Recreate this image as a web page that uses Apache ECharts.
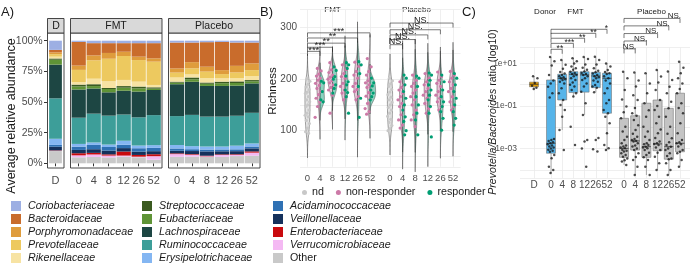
<!DOCTYPE html>
<html>
<head>
<meta charset="utf-8">
<script src="https://cdn.jsdelivr.net/npm/echarts@6/dist/echarts.min.js"></script>
<style>
html,body{margin:0;padding:0;background:#fff;}
#main{width:691px;height:271px;}
</style>
</head>
<body>
<div id="main"></div>
<script>
// ---- panel A : average relative abundance (%) ----
var families = ['Coriobacteriaceae','Bacteroidaceae','Porphyromonadaceae','Prevotellaceae','Rikenellaceae',
  'Streptococcaceae','Eubacteriaceae','Lachnospiraceae','Ruminococcaceae','Erysipelotrichaceae',
  'Acidaminococcaceae','Veillonellaceae','Enterobacteriaceae','Verrucomicrobiaceae','Other'];
var familyColors = ['#9dafe3','#c96c2c','#df9c3c','#edc95f','#f7e3a3',
  '#3b5a20','#5f9436','#1d4643','#3d9e99','#84b6f2',
  '#2f71b4','#15315c','#c90a0e','#f4b9f3','#c9c9c9'];
var weeks = ['0','4','8','12','26','52'];
// one row per bar, values in the order of families
var abundDonor = [7.5, 2, 1.5, 2, 1.5, 1, 4, 27.5, 33, 5, 1.5, 3, 0.3, 0.2, 10];
var abundFMT = [
  [1, 19.3, 3.5, 10, 2, 1.5, 2.5, 23, 21.4, 2.2, 2.7, 2.7, 1.7, 1.6, 4.9],
  [2, 10, 4, 15, 4.5, 1.5, 2, 20.5, 23.5, 2, 3.5, 3, 1.3, 2, 5.2],
  [2, 8, 4.7, 18.4, 5.5, 0.8, 2.7, 19, 23.6, 2, 3, 3, 1, 1.5, 4.8],
  [2, 7, 3.5, 19.5, 5, 1.3, 2.5, 19.4, 21.4, 3.3, 2.7, 2.8, 3.3, 0.8, 5.5],
  [2, 11, 2.8, 17.6, 4, 1.5, 2.6, 21, 23, 2.2, 2.8, 2.7, 1.4, 0.5, 4.9],
  [2, 12.4, 2.7, 19, 1.9, 1.1, 1.1, 20.5, 24.5, 2.2, 2.7, 2.5, 1.6, 2.8, 3]
];
var abundPlacebo = [
  [1.5, 21.1, 3.4, 4, 3.4, 0.8, 1.3, 26, 23.6, 2.8, 1.9, 2.1, 0.6, 2.2, 5.3],
  [1.5, 16, 5, 5, 2.5, 1.5, 2, 27, 25.5, 2.5, 1.5, 2.5, 0.5, 1.5, 5.5],
  [1.2, 20, 4, 5.4, 3.5, 1, 1.8, 25, 24.4, 2.5, 1.5, 3.5, 0.5, 0.5, 5.2],
  [1, 23, 3.2, 3.5, 2.7, 1.3, 2.2, 25, 24.4, 2.4, 1.5, 2.5, 0.5, 1.5, 5.3],
  [1.5, 19, 5.4, 4.6, 2.7, 1.3, 2.2, 24.5, 24.4, 3, 1.5, 2.5, 0.5, 1, 5.9],
  [1.5, 17, 5.5, 4.8, 3.3, 1, 1.7, 24, 25, 2.5, 1.5, 2.5, 1, 2.5, 6.2]
];

// ---- panel B : richness ----
var richFMTnd = [201,196,190,185,180,175,172,166,160,156,150,147,140,134,130,127,120,114,105,98,95];
var richFMTnon = [[],
  [221,216,210,206,202,198,192,188,182,176,170,163,156,147,126],
  [232,224,218,213,208,204,200,197,193,189,184,179,169,134],
  [228,219,211,205,202,192,186,179,173,166,160],
  [233,225,215,208,202,192,186,180,176,166,160],
  [240,224,215,208,202,197,193,189,184,179,174,167,161,153,143,137,132]];
var richFMTresp = [[],
  [196,193,176,160,156],
  [224,217,205,200,189,182,173],
  [232,228,221,206,195,189,179,174,166,134],
  [234,228,211,186,163,126],
  [202,193,187,179,173,166,160]];
var richPlaceboNd = [202,197,191,186,180,175,170,165,160,155,150,145,140,134,128,122,116,110,104,100];
var richPlaceboNon = [[],
  [195,189,184,179,173,166,160,153,147,140,131,121,111,105],
  [208,198,192,186,179,173,166,160,150,140,131,121,108],
  [211,202,195,189,182,176,169,163,153,143,134],
  [214,205,198,192,186,176,169,163,156,147,140],
  [215,208,202,195,189,182,176,166,156,147,140]];
var richPlaceboResp = [[],
  [208,202,189,176,163,150,140,127,118,100,92],
  [206,202,186,166,150,134,121,92],
  [212,208,198,189,179,169,160,147,134,88],
  [208,195,179,166,156,147,137,124,101],
  [211,202,189,176,163,150,137,124,111]];
var richSigFMT = [[1,254,'***'],[2,262,'***'],[3,270,'**'],[4,280,'**'],[5,290,'***']];
var richSigPlacebo = [[1,267,'NS.'],[2,277,'NS.'],[3,286,'NS.'],[4,296,'NS.'],[5,309,'NS.']];

// ---- panel C : log10 Prevotella/Bacteroides ratio ----
var ratioDonor = [0.4, 0.3, 0.08, -0.05, -0.15, -0.2];
var ratioFMT = [
  [1.3,1.1,0.9,0.45,0.2,0.05,-0.1,-0.4,-0.6,-2.55,-2.6,-2.65,-2.7,-2.75,-2.8,-2.85,-2.9,-2.95,-3.0,-3.05,-3.1,-3.15,-3.3,-3.45,-3.85,-4.0,-4.15],
  [1.16,0.93,0.75,0.6,0.53,0.46,0.4,0.35,0.3,0.25,0.22,0.14,0.06,-0.17,-0.4,-0.72,-0.95,-1.19,-1.5,-2.13,-3.07],
  [1.24,1.1,1.0,0.85,0.77,0.7,0.61,0.55,0.5,0.46,0.4,0.3,0.22,0.1,0.0,-0.09,-0.25,-0.4,-0.56,-1.97,-2.83],
  [1.3,1.2,0.95,0.8,0.7,0.62,0.55,0.5,0.46,0.4,0.3,0.22,0.06,-0.09,-0.33,-0.87,-1.42,-2.6,-2.67,-3.0,-3.85],
  [1.31,1.16,0.95,0.77,0.65,0.58,0.53,0.46,0.4,0.35,0.3,0.2,0.14,-0.01,-0.09,-0.14,-0.35,-2.5,-2.6,-3.03,-3.14],
  [1.0,0.85,0.69,0.6,0.54,0.5,0.4,0.3,0.2,0.06,-0.17,-0.4,-0.72,-0.87,-1.19,-1.34,-1.5,-1.81,-2.28,-2.83,-2.99,-3.07]];
var ratioPlacebo = [
  [0.61,0.3,-0.25,-0.7,-1.03,-1.3,-1.58,-1.97,-2.2,-2.44,-2.6,-2.75,-2.85,-2.9,-2.95,-2.99,-3.05,-3.1,-3.14,-3.22,-3.3,-3.38,-3.46,-3.55,-3.61,-3.77],
  [0.57,0.2,-0.09,-0.5,-0.72,-1.1,-1.34,-1.46,-1.66,-1.9,-2.13,-2.3,-2.44,-2.55,-2.6,-2.64,-2.67,-2.75,-2.85,-2.9,-3.0,-3.07,-3.22,-3.4,-3.54,-3.85,-4.24],
  [0.54,0.06,-0.4,-0.87,-1.2,-1.5,-1.97,-2.2,-2.44,-2.6,-2.75,-2.8,-2.83,-2.91,-2.95,-2.99,-3.07,-3.2,-3.3,-3.41,-3.54,-3.85,-4.24],
  [0.69,0.38,0.1,-0.25,-0.72,-1.0,-1.19,-1.5,-1.81,-2.1,-2.28,-2.5,-2.67,-2.75,-2.78,-2.83,-2.95,-3.07,-3.2,-3.38,-3.69,-4.0],
  [0.62,0.22,-0.1,-0.4,-0.8,-1.11,-1.5,-1.97,-2.3,-2.52,-2.7,-2.83,-2.91,-3.0,-3.07,-3.22,-3.35,-3.46,-3.5,-3.69,-4.0,-4.24],
  [1.08,0.8,0.54,0.3,0.06,-0.2,-0.4,-0.87,-1.1,-1.34,-1.81,-2.28,-2.6,-2.7,-2.75,-2.8,-2.9,-3.07,-3.15,-3.22,-3.54,-3.85]];
// [lower whisker, Q1, median, Q3, upper whisker]
var boxDonor = [-0.2, -0.1, 0.02, 0.12, 0.4];
var boxFMT = [[-4.15,-3.22,-2.75,0.22,1.3],[-2.13,-0.72,0.3,0.49,1.16],[-0.56,-0.37,0.49,0.61,1.24],
  [-1.42,-0.35,0.46,0.61,1.3],[-0.35,-0.14,0.41,0.58,1.31],[-3.07,-1.34,0.3,0.54,1.0]];
var boxPlacebo = [[-3.77,-3.41,-2.99,-1.58,0.61],[-4.24,-3.07,-2.64,-1.46,0.57],[-4.24,-3.41,-2.91,-0.87,0.54],
  [-4.0,-3.1,-2.78,-0.72,0.69],[-4.24,-3.5,-2.91,-1.11,0.62],[-3.85,-3.15,-2.75,-0.4,1.08]];
var ratioSigFMT = [[1,1.66,'**'],[2,1.94,'***'],[3,2.18,'**'],[4,2.41,'**'],[5,2.60,'*']];
var ratioSigPlacebo = [[1,1.68,'NS.'],[2,2.05,'NS.'],[3,2.40,'NS.'],[4,2.76,'NS.'],[5,3.11,'NS.']];

var FONT = 'Liberation Sans, Arial, sans-serif';
var TXT = '#4d4d4d';
var GRIDC = '#ebebeb';
var PINK = '#cc79a7', GREEN = '#009e73', NDGREY = '#c8c8c8';

var myChart = echarts.init(document.getElementById('main'));

// kernel density (gaussian, bw.nrd0, not trimmed) of the read points
function quant(s, p) {
  var h = (s.length - 1) * p, lo = Math.floor(h);
  return s[lo] + (h - lo) * (s[Math.min(lo + 1, s.length - 1)] - s[lo]);
}
function density(x) {
  var n = x.length, m = 0, v = 0;
  x.forEach(function (a) { m += a; }); m /= n;
  x.forEach(function (a) { v += (a - m) * (a - m); });
  var sd = Math.sqrt(v / (n - 1));
  var s = x.slice().sort(function (a, b) { return a - b; });
  var lo = Math.min(sd, (quant(s, 0.75) - quant(s, 0.25)) / 1.34);
  if (!(lo > 0)) lo = sd || 1;
  var bw = 0.9 * lo * Math.pow(n, -0.2);
  var y0 = s[0] - 3 * bw, y1 = s[n - 1] + 3 * bw, out = [];
  for (var k = 0; k <= 80; k++) {
    var y = y0 + (y1 - y0) * k / 80, d = 0;
    x.forEach(function (a) { var z = (y - a) / bw; d += Math.exp(-0.5 * z * z); });
    out.push([y, d / (n * bw * Math.sqrt(2 * Math.PI))]);
  }
  return out;
}

function frac(i) { return (i * 0.618034 + 0.37) % 1; }

function buildOption() {
  var series = [];
  // stacked bars (bottom family first)
  for (var f = families.length - 1; f >= 0; f--) {
    series.push({ type: 'bar', name: families[f], stack: 'd', xAxisIndex: 0, yAxisIndex: 0, barCategoryGap: '10%',
      data: [abundDonor[f]], itemStyle: { color: familyColors[f] }, silent: true });
    series.push({ type: 'bar', name: families[f], stack: 'f', xAxisIndex: 1, yAxisIndex: 1, barCategoryGap: '5%',
      data: abundFMT.map(function (r) { return r[f]; }), itemStyle: { color: familyColors[f] }, silent: true });
    series.push({ type: 'bar', name: families[f], stack: 'p', xAxisIndex: 2, yAxisIndex: 2, barCategoryGap: '5%',
      data: abundPlacebo.map(function (r) { return r[f]; }), itemStyle: { color: familyColors[f] }, silent: true });
  }

  // violins
  var profFMT = weeks.map(function (w, k) {
    return k === 0 ? { full: density(richFMTnd) } : { left: density(richFMTnon[k]), right: density(richFMTresp[k]) };
  });
  var profPl = weeks.map(function (w, k) {
    return k === 0 ? { full: density(richPlaceboNd) } : { left: density(richPlaceboNon[k]), right: density(richPlaceboResp[k]) };
  });
  var gmax = 0;
  profFMT.concat(profPl).forEach(function (p) {
    [p.full, p.left, p.right].forEach(function (d) { if (d) d.forEach(function (q) { gmax = Math.max(gmax, q[1]); }); });
  });
  function violin(gi, prof) {
    return { type: 'custom', xAxisIndex: gi, yAxisIndex: gi, silent: true, data: [0, 1, 2, 3, 4, 5].map(function (k) { return [k, 0]; }),
      encode: { x: 0, y: 1 },
      renderItem: function (params, api) {
        var k = api.value(0), p = prof[k];
        var cx = api.coord([k, 0])[0];
        var band = api.coord([1, 0])[0] - api.coord([0, 0])[0];
        var sc = 0.45 * band / gmax, kids = [];
        function side(d, sgn) { return d.map(function (q) { return [cx + sgn * q[1] * sc, api.coord([k, q[0]])[1]]; }); }
        if (p.full) {
          var pts = side(p.full, -1).concat(side(p.full, 1).reverse());
          kids.push({ type: 'polygon', shape: { points: pts }, style: { fill: 'rgba(200,200,200,0.45)', stroke: '#444', lineWidth: 0.5 } });
        } else {
          [[p.left, -1, 'rgba(204,121,167,0.45)'], [p.right, 1, 'rgba(0,158,115,0.45)']].forEach(function (h) {
            var pts = side(h[0], h[1]);
            pts.push([cx, pts[pts.length - 1][1]]); pts.push([cx, pts[0][1]]);
            kids.push({ type: 'polygon', shape: { points: pts }, style: { fill: h[2], stroke: '#444', lineWidth: 0.5 } });
          });
        }
        return { type: 'group', children: kids };
      } };
  }
  series.push(violin(4, profFMT), violin(5, profPl));

  function points(name, color, gi, groups, lo, hi, r) {
    var data = [];
    groups.forEach(function (vals, k) { vals.forEach(function (v, i) { data.push([k, v, i]); }); });
    return { type: 'custom', name: name, xAxisIndex: gi, yAxisIndex: gi, silent: true, data: data,
      encode: { x: 0, y: 1 }, itemStyle: { color: color },
      renderItem: function (params, api) {
        var k = api.value(0), p = api.coord([k, api.value(1)]);
        var band = api.coord([1, 0])[0] - api.coord([0, 0])[0];
        return { type: 'circle', shape: { cx: p[0] + (lo + (hi - lo) * frac(api.value(2))) * band, cy: p[1], r: r },
          style: { fill: color } };
      } };
  }
  series.push(points('nd', NDGREY, 4, [richFMTnd], -0.2, 0.2, 1.6));
  series.push(points('nd', NDGREY, 5, [richPlaceboNd], -0.2, 0.2, 1.6));
  series.push(points('non-responder', PINK, 4, richFMTnon, -0.4, 0.1, 1.6));
  series.push(points('non-responder', PINK, 5, richPlaceboNon, -0.4, 0.1, 1.6));
  series.push(points('responder', GREEN, 4, richFMTresp, 0, 0.3, 1.6));
  series.push(points('responder', GREEN, 5, richPlaceboResp, 0, 0.3, 1.6));

  // significance brackets
  function brackets(gi, sig, fs, place) {
    return { type: 'custom', xAxisIndex: gi, yAxisIndex: gi, silent: true, data: sig.map(function (s) { return [s[0], s[1]]; }),
      encode: { x: 0, y: 1 },
      renderItem: function (params, api) {
        var s = sig[params.dataIndex];
        var a = api.coord([0, s[1]]), b = api.coord([s[0], s[1]]);
        var tip = 4.5;
        var star = s[2].charAt(0) === '*';
        var tx = place === 'mid' ? (a[0] + b[0]) / 2 : b[0] + 1;
        return { type: 'group', children: [
          { type: 'polyline', shape: { points: [[a[0], a[1] + tip], [a[0], a[1]], [b[0], b[1]], [b[0], b[1] + tip]] },
            style: { stroke: '#222', lineWidth: 0.6, fill: 'none' } },
          { type: 'text', x: tx, y: a[1] + (star ? 3.5 : 1.5),
            style: { text: s[2], fontSize: star ? fs + 0.5 : fs, fontFamily: FONT, fill: '#222',
              align: place === 'mid' ? 'center' : 'right', verticalAlign: 'bottom' } }
        ] };
      } };
  }
  series.push(brackets(4, richSigFMT, 9, 'mid'), brackets(5, richSigPlacebo, 9, 'mid'));

  // boxplots + jitter for panel C
  function boxes(gi, stats, idx0, fill) {
    return { type: 'custom', xAxisIndex: gi, yAxisIndex: gi, silent: true,
      data: stats.map(function (b, i) { return [i + idx0].concat(b); }), encode: { x: 0, y: [1, 2, 3, 4, 5] },
      renderItem: function (params, api) {
        var k = api.value(0), hw = 4.5;
        var lo = api.coord([k, api.value(1)]), q1 = api.coord([k, api.value(2)]), md = api.coord([k, api.value(3)]),
            q3 = api.coord([k, api.value(4)]), hi = api.coord([k, api.value(5)]);
        var ls = { stroke: '#777', lineWidth: 0.6, fill: 'none' };
        return { type: 'group', children: [
          { type: 'line', shape: { x1: lo[0], y1: lo[1], x2: q1[0], y2: q1[1] }, style: ls },
          { type: 'line', shape: { x1: q3[0], y1: q3[1], x2: hi[0], y2: hi[1] }, style: ls },
          { type: 'rect', shape: { x: q3[0] - hw, y: q3[1], width: 2 * hw, height: q1[1] - q3[1] }, style: { fill: fill, stroke: '#777', lineWidth: 0.6 } },
          { type: 'line', shape: { x1: md[0] - hw, y1: md[1], x2: md[0] + hw, y2: md[1] }, style: { stroke: '#333', lineWidth: 0.8, fill: 'none' } }
        ] };
      } };
  }
  function ratioPts(gi, groups, idx0) {
    var data = [];
    groups.forEach(function (vals, k) { vals.forEach(function (v, i) { data.push([k + idx0, v, i]); }); });
    return { type: 'custom', xAxisIndex: gi, yAxisIndex: gi, silent: true, data: data, encode: { x: 0, y: 1 },
      renderItem: function (params, api) {
        var p = api.coord([api.value(0), api.value(1)]);
        return { type: 'circle', shape: { cx: p[0] + (frac(api.value(2)) - 0.5) * 7, cy: p[1], r: 1.25 },
          style: { fill: '#111', opacity: 0.75 } };
      } };
  }
  series.push(boxes(7, [boxDonor], 1, '#e69f00'), boxes(8, boxFMT, 0, '#56b4e9'), boxes(9, boxPlacebo, 0, '#c4c4c4'));
  series.push(ratioPts(7, [ratioDonor], 1), ratioPts(8, ratioFMT, 0), ratioPts(9, ratioPlacebo, 0));
  series.push(brackets(8, ratioSigFMT, 8, 'right'), brackets(9, ratioSigPlacebo, 8, 'right'));

  var aTop = 40.7, aH = 122.6, bTop = 9.67, bH = 157.08, cTop = 47.4, cH = 131;
  var grids = [
    { left: 48.4, top: aTop, width: 14.2, height: aH },
    { left: 71.2, top: aTop, width: 90, height: aH },
    { left: 169.5, top: aTop, width: 89.8, height: aH },
    { left: 300, top: bTop, width: 160.6, height: bH },
    { left: 307.5, top: bTop, width: 62.5, height: bH },
    { left: 390, top: bTop, width: 63, height: bH },
    { left: 520, top: cTop, width: 170, height: cH },
    { left: 522.8, top: cTop, width: 22.4, height: cH },
    { left: 551, top: cTop, width: 56, height: cH },
    { left: 624, top: cTop, width: 56, height: cH }
  ];
  var lbl = function (fs, margin) { return { fontSize: fs, color: TXT, fontFamily: FONT, margin: margin }; };
  var aX = function (gi, data) {
    return { type: 'category', gridIndex: gi, data: data, offset: 4.7, axisLine: { show: false },
      axisTick: { show: true, length: 3, alignWithLabel: true, interval: 0, lineStyle: { color: '#333' } },
      axisLabel: Object.assign(lbl(11, 7), { interval: 0 }) };
  };
  var bcX = function (gi, data, fs, margin) {
    return { type: 'category', gridIndex: gi, data: data, boundaryGap: false, axisLine: { show: false }, axisTick: { show: false },
      axisLabel: Object.assign(lbl(fs, margin), { interval: 0 }),
      splitLine: { show: true, interval: function (i, v) { return v.trim() !== ''; }, lineStyle: { color: GRIDC, width: 0.8 } } };
  };
  var hidX = function (gi) { return { type: 'value', gridIndex: gi, show: false, min: 0, max: 1 }; };
  var xAxes = [aX(0, ['D']), aX(1, weeks), aX(2, weeks), hidX(3), bcX(4, weeks, 9.5, 6.5), bcX(5, weeks, 9.5, 6.5),
    hidX(6), bcX(7, [' ', 'D', '  '], 10, 1.5), bcX(8, weeks, 10, 1.5), bcX(9, weeks, 10, 1.5)];

  var hidY = function (gi, mn, mx) { return { type: 'value', gridIndex: gi, min: mn, max: mx, show: false }; };
  var yAxes = [
    { type: 'value', gridIndex: 0, min: 0, max: 100, interval: 25, offset: 1.4, axisLine: { show: false },
      axisTick: { show: true, length: 3, lineStyle: { color: '#333' } }, splitLine: { show: false },
      axisLabel: Object.assign(lbl(10.5, 4.3), { formatter: '{value}%' }) },
    hidY(1, 0, 100), hidY(2, 0, 100),
    { type: 'value', gridIndex: 3, min: 30, max: 335, splitNumber: 6, axisLine: { show: false }, axisTick: { show: false },
      splitLine: { show: true, lineStyle: { color: GRIDC, width: 0.8 } },
      axisLabel: Object.assign(lbl(10, 3), { formatter: function (v) { return (v % 100 === 0 && v > 0) ? String(v) : ''; } }) },
    hidY(4, 30, 335), hidY(5, 30, 335),
    { type: 'value', gridIndex: 6, min: -4.4, max: 1.75, splitNumber: 6, axisLine: { show: false }, axisTick: { show: false },
      splitLine: { show: true, lineStyle: { color: GRIDC, width: 0.8 } },
      axisLabel: Object.assign(lbl(8.5, 3), { formatter: function (v) {
        var r = Math.round(v);
        if (Math.abs(v - r) > 1e-6 || Math.abs(r) % 2 !== 1) return '';
        return '1e' + (r < 0 ? '-' : '+') + ('0' + Math.abs(r)).slice(-2);
      } }) },
    hidY(7, -4.4, 1.75), hidY(8, -4.4, 1.75), hidY(9, -4.4, 1.75)
  ];

  var legTxt = { fontSize: 10.7, color: '#1a1a1a', fontFamily: FONT, padding: [0, 0, 0, 2],
    rich: { i: { fontStyle: 'italic', fontSize: 10.7, fontFamily: FONT, color: '#1a1a1a' }, n: { fontSize: 10.7, fontFamily: FONT, color: '#1a1a1a' } } };
  var famLegend = function (names, left) {
    return { data: names, left: left, top: 200.5, height: 120, padding: 0, orient: 'vertical', icon: 'rect', itemWidth: 10, itemHeight: 10, itemGap: 2,
      selectedMode: false, textStyle: legTxt, formatter: function (n) { return n === 'Other' ? '{n|Other}' : '{i|' + n + '}'; } };
  };
  var legends = [famLegend(families.slice(0, 5), 11), famLegend(families.slice(5, 10), 142), famLegend(families.slice(10), 273),
    { data: ['nd', 'non-responder', 'responder'], left: 302, top: 187, padding: 0, icon: 'circle', itemWidth: 5, itemHeight: 5, itemGap: 12,
      selectedMode: false, textStyle: { fontSize: 10.7, color: '#1a1a1a', fontFamily: FONT } }];

  var frame = function (x, y, w, h, fill) {
    return { type: 'rect', shape: { x: x, y: y, width: w, height: h }, style: { fill: fill, stroke: '#333', lineWidth: 0.9 }, silent: true };
  };
  var txt = function (x, y, s, fs, extra, rot) {
    return { type: 'text', x: x, y: y, rotation: rot || 0, silent: true, style: Object.assign({ text: s, fontSize: fs, fontFamily: FONT, fill: '#1a1a1a',
      align: 'center', verticalAlign: 'middle' }, extra || {}) };
  };
  var graphics = [
    frame(47.5, 33, 16.5, 135, 'none'), frame(70.5, 33, 91.5, 135, 'none'), frame(168.5, 33, 91.5, 135, 'none'),
    frame(47.5, 18.5, 16.5, 14.5, '#d9d9d9'), frame(70.5, 18.5, 91.5, 14.5, '#d9d9d9'), frame(168.5, 18.5, 91.5, 14.5, '#d9d9d9'),
    txt(56, 26, 'D', 10.5), txt(116, 26, 'FMT', 10.5), txt(214, 26, 'Placebo', 10.5),
    txt(1, 12, 'A)', 13, { align: 'left' }), txt(260, 12, 'B)', 13, { align: 'left' }), txt(462, 12, 'C)', 13, { align: 'left' }),
    txt(12, 116, 'Average relative abundance', 12.5, null, Math.PI / 2),
    txt(332.5, 10, 'FMT', 8), txt(416.5, 10, 'Placebo', 8),
    txt(545, 12, 'Donor', 8), txt(575.5, 12, 'FMT', 8), txt(651.5, 12, 'Placebo', 8),
    txt(272.5, 91, 'Richness', 11.5, null, Math.PI / 2),
    txt(493, 112, '{i|Prevotella/Bacteroides} ratio (log10)', 10.6,
      { rich: { i: { fontStyle: 'italic', fontSize: 10.6, fontFamily: FONT, fill: '#1a1a1a' } } }, Math.PI / 2)
  ];

  return {
    animation: false,
    textStyle: { fontFamily: FONT },
    grid: grids, xAxis: xAxes, yAxis: yAxes,
    legend: legends,
    graphic: graphics,
    series: series
  };
}

myChart.setOption(buildOption());
</script>
</body>
</html>
